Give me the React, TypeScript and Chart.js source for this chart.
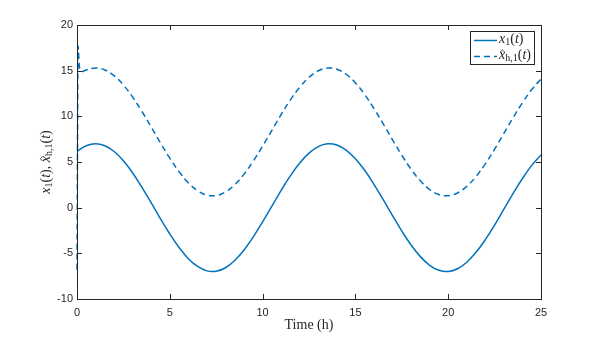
import React, { useEffect, useRef } from "react";
import { Chart, registerables } from "chart.js";

Chart.register(...registerables);

// ---- data ----
const timeH = [
  0, 0.5, 1, 1.5, 2, 2.5, 3, 3.5, 4, 4.5, 5, 5.5, 6, 6.5, 7, 7.5, 8, 8.5, 9, 9.5,
  10, 10.5, 11, 11.5, 12, 12.5, 13, 13.5, 14, 14.5, 15, 15.5, 16, 16.5, 17, 17.5,
  18, 18.5, 19, 19.5, 20, 20.5, 21, 21.5, 22, 22.5, 23, 23.5, 24, 24.5, 25,
];
const x1Values = [
  6.15, 6.78, 7.0, 6.78, 6.15, 5.13, 3.8, 2.23, 0.52, -1.22, -2.88, -4.36, -5.59,
  -6.44, -6.92, -6.97, -6.58, -5.78, -4.63, -3.19, -1.56, 0.17, 1.9, 3.5, 4.89,
  5.97, 6.69, 6.99, 6.86, 6.31, 5.36, 4.09, 2.56, 0.87, -0.87, -2.56, -4.09,
  -5.36, -6.31, -6.86, -6.99, -6.69, -5.97, -4.89, -3.5, -1.9, -0.17, 1.56, 3.19,
  4.63, 5.78,
];
const estimateTimeH = [
  0, 0.03, 0.06, 0.1, 0.15, 0.25, 0.5, 1, 1.5, 2, 2.5, 3, 3.5, 4, 4.5, 5, 5.5, 6,
  6.5, 7, 7.5, 8, 8.5, 9, 9.5, 10, 10.5, 11, 11.5, 12, 12.5, 13, 13.5, 14, 14.5,
  15, 15.5, 16, 16.5, 17, 17.5, 18, 18.5, 19, 19.5, 20, 20.5, 21, 21.5, 22, 22.5,
  23, 23.5, 24, 24.5, 25,
];
const estimateValues = [
  -6.8, 8.0, 17.6, 16.4, 15.2, 14.9, 15.08, 15.3, 15.08, 14.45, 13.43, 12.1,
  10.53, 8.82, 7.08, 5.42, 3.94, 2.71, 1.86, 1.38, 1.33, 1.72, 2.52, 3.67, 5.11,
  6.74, 8.47, 10.2, 11.8, 13.19, 14.27, 14.99, 15.29, 15.16, 14.61, 13.66, 12.39,
  10.86, 9.17, 7.43, 5.74, 4.21, 2.94, 1.99, 1.44, 1.31, 1.61, 2.33, 3.41, 4.8,
  6.4, 8.13, 9.86, 11.49, 12.93, 14.08,
];
const xTickValues = [0, 5, 10, 15, 20, 25];
const yTickValues = [-10, -5, 0, 5, 10, 15, 20];
const xAxisTitle = "Time (h)";

const LINE_COLOR = "#0072BD";
const AXIS_COLOR = "#262626";
const DASH = [6, 4];

type Seg = { t: string; font: string; dy?: number; hat?: boolean };

const IT = (s: number) => `italic ${s}px 'Liberation Serif', serif`;
const RM = (s: number) => `${s}px 'Liberation Serif', serif`;

function richWidth(ctx: CanvasRenderingContext2D, segs: Seg[]) {
  let w = 0;
  for (const s of segs) {
    ctx.font = s.font;
    w += ctx.measureText(s.t).width;
  }
  return w;
}

function drawRich(
  ctx: CanvasRenderingContext2D,
  segs: Seg[],
  x: number,
  y: number,
  align: "left" | "center"
) {
  const total = richWidth(ctx, segs);
  let cx = align === "center" ? x - total / 2 : x;
  ctx.textAlign = "left";
  ctx.textBaseline = "middle";
  for (const s of segs) {
    ctx.font = s.font;
    const w = ctx.measureText(s.t).width;
    ctx.fillText(s.t, cx, y + (s.dy || 0));
    if (s.hat) {
      const mx = cx + w / 2 + 0.3;
      ctx.save();
      ctx.lineWidth = 0.8;
      ctx.strokeStyle = ctx.fillStyle as string;
      ctx.beginPath();
      ctx.moveTo(mx - 2.4, y - 3.4);
      ctx.lineTo(mx, y - 5.6);
      ctx.lineTo(mx + 2.4, y - 3.4);
      ctx.stroke();
      ctx.restore();
    }
    cx += w;
  }
}

function labelX1(size: number): Seg[] {
  const sub = Math.round(size * 0.68);
  return [
    { t: "x", font: IT(size) },
    { t: "1", font: RM(sub), dy: 3 },
    { t: "(", font: RM(size) },
    { t: "t", font: IT(size) },
    { t: ")", font: RM(size) },
  ];
}
function labelXh(size: number): Seg[] {
  const sub = Math.round(size * 0.68);
  return [
    { t: "x", font: IT(size), hat: true },
    { t: "h,1", font: RM(sub), dy: 3 },
    { t: "(", font: RM(size) },
    { t: "t", font: IT(size) },
    { t: ")", font: RM(size) },
  ];
}

const framePlugin = {
  id: "matlabFrame",
  afterDatasetsDraw(chart: any) {
    const ctx: CanvasRenderingContext2D = chart.ctx;
    const { left, right, top, bottom } = chart.chartArea;
    const xs = chart.scales.x;
    const ys = chart.scales.y;
    ctx.save();
    ctx.strokeStyle = AXIS_COLOR;
    ctx.lineWidth = 1;
    // box
    ctx.strokeRect(Math.round(left) + 0.5, Math.round(top) + 0.5, Math.round(right - left), Math.round(bottom - top));
    // inward ticks
    const tl = 5;
    ctx.beginPath();
    for (const v of xTickValues) {
      const px = Math.round(xs.getPixelForValue(v)) + 0.5;
      ctx.moveTo(px, bottom);
      ctx.lineTo(px, bottom - tl);
      ctx.moveTo(px, top);
      ctx.lineTo(px, top + tl);
    }
    for (const v of yTickValues) {
      const py = Math.round(ys.getPixelForValue(v)) + 0.5;
      ctx.moveTo(left, py);
      ctx.lineTo(left + tl, py);
      ctx.moveTo(right, py);
      ctx.lineTo(right - tl, py);
    }
    ctx.stroke();

    // x-axis title
    ctx.fillStyle = AXIS_COLOR;
    ctx.font = RM(14);
    ctx.textAlign = "center";
    ctx.textBaseline = "middle";
    ctx.fillText(xAxisTitle, (left + right) / 2, 325);

    // y-axis title (rotated)
    ctx.save();
    ctx.translate(46, (top + bottom) / 2);
    ctx.rotate(-Math.PI / 2);
    const ySegs: Seg[] = [
      ...labelX1(14),
      { t: ", ", font: RM(14) },
      ...labelXh(14),
    ];
    drawRich(ctx, ySegs, 0, 0, "center");
    ctx.restore();

    // legend
    const bx = 470.5, by = 31.5, bw = 64, bh = 33;
    ctx.fillStyle = "#ffffff";
    ctx.fillRect(bx, by, bw, bh);
    ctx.strokeStyle = AXIS_COLOR;
    ctx.lineWidth = 1;
    ctx.strokeRect(bx, by, bw, bh);
    const row1 = 40.5, row2 = 56.5;
    ctx.strokeStyle = LINE_COLOR;
    ctx.lineWidth = 1.5;
    ctx.beginPath();
    ctx.moveTo(474, row1);
    ctx.lineTo(497, row1);
    ctx.stroke();
    ctx.setLineDash(DASH);
    ctx.beginPath();
    ctx.moveTo(474, row2);
    ctx.lineTo(497, row2);
    ctx.stroke();
    ctx.setLineDash([]);
    ctx.fillStyle = AXIS_COLOR;
    drawRich(ctx, labelX1(14), 499, row1 - 1, "left");
    drawRich(ctx, labelXh(14), 499, row2 - 1, "left");
    ctx.restore();
  },
};

export default function App() {
  const canvasRef = useRef<HTMLCanvasElement | null>(null);

  useEffect(() => {
    document.body.style.margin = "0";
    const canvas = canvasRef.current;
    if (!canvas) return;
    const solid = timeH.map((t, i) => ({ x: t, y: x1Values[i] }));
    const dashed = estimateTimeH.map((t, i) => ({ x: t, y: estimateValues[i] }));
    const tickFont = { family: "'Liberation Sans', Arial, sans-serif", size: 11 };

    const chart = new Chart(canvas, {
      type: "line",
      data: {
        datasets: [
          {
            label: "x1(t)",
            data: solid,
            borderColor: LINE_COLOR,
            backgroundColor: LINE_COLOR,
            borderWidth: 1.5,
            pointRadius: 0,
            tension: 0.4,
            clip: 4,
          } as any,
          {
            label: "x̂h,1(t)",
            data: dashed,
            borderColor: LINE_COLOR,
            backgroundColor: LINE_COLOR,
            borderWidth: 1.5,
            borderDash: DASH,
            pointRadius: 0,
            tension: 0.4,
            clip: 4,
          } as any,
        ],
      },
      options: {
        responsive: false,
        animation: false,
        devicePixelRatio: 1,
        layout: { padding: { top: 25, right: 57, left: 0, bottom: 0 } },
        plugins: {
          legend: { display: false },
          tooltip: { enabled: false },
          title: { display: false },
        },
        scales: {
          x: {
            type: "linear",
            min: 0,
            max: 25,
            afterBuildTicks: (s: any) => {
              s.ticks = xTickValues.map((v) => ({ value: v }));
            },
            afterFit: (s: any) => {
              s.height = 38;
            },
            grid: { display: false, drawTicks: false },
            border: { display: false },
            ticks: {
              color: AXIS_COLOR,
              font: tickFont,
              padding: 7,
              maxRotation: 0,
              autoSkip: false,
            },
          },
          y: {
            type: "linear",
            min: -10,
            max: 20,
            afterBuildTicks: (s: any) => {
              s.ticks = yTickValues.map((v) => ({ value: v }));
            },
            afterFit: (s: any) => {
              s.width = 77;
            },
            grid: { display: false, drawTicks: false },
            border: { display: false },
            ticks: {
              color: AXIS_COLOR,
              font: tickFont,
              padding: 4,
              autoSkip: false,
            },
          },
        },
      } as any,
      plugins: [framePlugin],
    });
    return () => chart.destroy();
  }, []);

  return (
    <div style={{ position: "absolute", left: 0, top: 0, width: 598, height: 337, background: "#fff" }}>
      <canvas ref={canvasRef} width={598} height={337} style={{ display: "block" }} />
    </div>
  );
}
